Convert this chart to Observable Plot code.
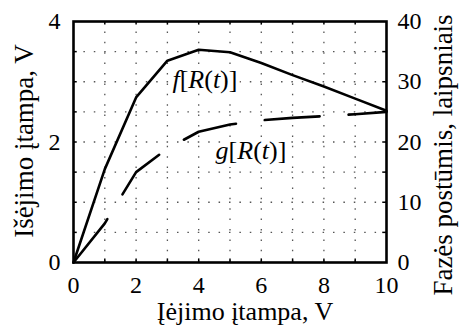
<!DOCTYPE html>
<html>
<head>
<meta charset="utf-8">
<script src="https://cdn.jsdelivr.net/npm/d3@7"></script>
<script src="https://cdn.jsdelivr.net/npm/@observablehq/plot@0.6"></script>
<style>
  html, body { margin: 0; padding: 0; background: white; }
  svg { display: block; }
</style>
</head>
<body>
<div id="chart"></div>
<script>
// Input voltage, V
const inputVoltage = [0, 1, 2, 3, 4, 5, 6, 7, 8, 9, 10];
// f[R(t)] output voltage, V (left axis)
const fOutput = [0, 1.55, 2.74, 3.35, 3.53, 3.49, 3.31, 3.11, 2.92, 2.72, 2.52];
// g[R(t)] phase shift, degrees (right axis)
const gPhase = [0, 6.5, 15, 18.9, 21.7, 22.9, 23.6, 24.0, 24.3, 24.6, 25.0];

const xTicks = [0, 2, 4, 6, 8, 10];
const leftTicks = [0, 2, 4];
const rightTicks = [0, 10, 20, 30, 40];

const xLabel = "Įėjimo įtampa, V";
const leftLabel = "Išėjimo įtampa, V";
const rightLabel = "Fazės postūmis, laipsniais";
const fLabel = "f[R(t)]";
const gLabel = "g[R(t)]";

const data = inputVoltage.map((x, i) => ({x, f: fOutput[i], g: gPhase[i]}));

const serif = "'Liberation Serif', 'Times New Roman', Times, serif";
const gridStyle = {stroke: "#555", strokeOpacity: 1, strokeWidth: 1.3, strokeDasharray: "1.5,8.9"};
const fPos = {x: 3.16, y: 3.04};
const gPos = {x: 4.54, y: 1.86};
const labelOpts = {text: d => d, textAnchor: "start", lineAnchor: "middle", fontSize: 26, fontFamily: serif};

const chart = Plot.plot({
  width: 462,
  height: 326,
  marginLeft: 73,
  marginRight: 76,
  marginTop: 21,
  marginBottom: 64,
  style: {fontFamily: serif, fontSize: "24px", background: "white", color: "black", overflow: "visible"},
  x: {domain: [0, 10]},
  y: {domain: [0, 4]},
  marks: [
    Plot.gridX(d3.range(1, 10), gridStyle),
    Plot.gridY(d3.range(0.5, 4, 0.5), gridStyle),
    // small inward ticks
    Plot.ruleX(d3.range(1, 10), {y1: 0, y2: 0.06, stroke: "black", strokeWidth: 1.5}),
    Plot.ruleX(d3.range(1, 10), {y1: 4, y2: 3.94, stroke: "black", strokeWidth: 1.5}),
    Plot.ruleY(d3.range(0.5, 4, 0.5), {x1: 0, x2: 0.12, stroke: "black", strokeWidth: 1.5}),
    Plot.ruleY(d3.range(0.5, 4, 0.5), {x1: 10, x2: 9.88, stroke: "black", strokeWidth: 1.5}),
    Plot.axisX(xTicks, {tickSize: 0, tickPadding: 13, label: null, fontSize: 24, fontFamily: serif,
      tickFormat: d => String(d)}),
    Plot.axisY(leftTicks, {anchor: "left", tickSize: 0, tickPadding: 13, label: null, fontSize: 24, fontFamily: serif,
      tickFormat: d => String(d)}),
    Plot.axisY(rightTicks.map(d => d / 10), {anchor: "right", tickSize: 0, tickPadding: 11, label: null, fontSize: 24,
      fontFamily: serif, tickFormat: d => String(Math.round(d * 10))}),
    // white halo behind the curve labels
    Plot.text([fLabel], {...fPos, ...labelOpts, stroke: "white", strokeWidth: 8, fill: "white"}),
    Plot.text([gLabel], {...gPos, ...labelOpts, stroke: "white", strokeWidth: 8, fill: "white"}),
    Plot.text([fLabel], {...fPos, ...labelOpts, fill: "black"}),
    Plot.text([gLabel], {...gPos, ...labelOpts, fill: "black"}),
    Plot.line(data, {x: "x", y: "f", stroke: "black", strokeWidth: 2.6}),
    Plot.line(data, {x: "x", y: d => d.g / 10, stroke: "black", strokeWidth: 2.6, strokeDasharray: "55,29"}),
    Plot.frame({stroke: "black", strokeWidth: 2.6}),
    Plot.text([xLabel], {frameAnchor: "bottom", text: d => d, textAnchor: "middle", dx: 15, dy: 49,
      fontSize: 26, fontFamily: serif, lineAnchor: "middle"}),
    Plot.text([leftLabel], {frameAnchor: "left", text: d => d, textAnchor: "middle", rotate: -90, dx: -49, dy: -1,
      fontSize: 27, fontFamily: serif, lineAnchor: "middle"}),
    Plot.text([rightLabel], {frameAnchor: "right", text: d => d, textAnchor: "middle", rotate: -90, dx: 57, dy: 13,
      fontSize: 27, fontFamily: serif, lineAnchor: "middle"})
  ]
});

// Italic math variables inside the curve labels
const parts = {
  [fLabel]: [["f", true], ["[", false], ["R", true], ["(", false], ["t", true], [")]", false]],
  [gLabel]: [["g", true], ["[", false], ["R", true], ["(", false], ["t", true], [")]", false]]
};
chart.querySelectorAll("text").forEach(t => {
  const p = parts[t.textContent];
  if (!p) return;
  t.textContent = "";
  for (const [s, it] of p) {
    const ts = document.createElementNS("http://www.w3.org/2000/svg", "tspan");
    ts.textContent = s;
    if (it) ts.setAttribute("font-style", "italic");
    t.appendChild(ts);
  }
});

document.getElementById("chart").appendChild(chart);
</script>
</body>
</html>
